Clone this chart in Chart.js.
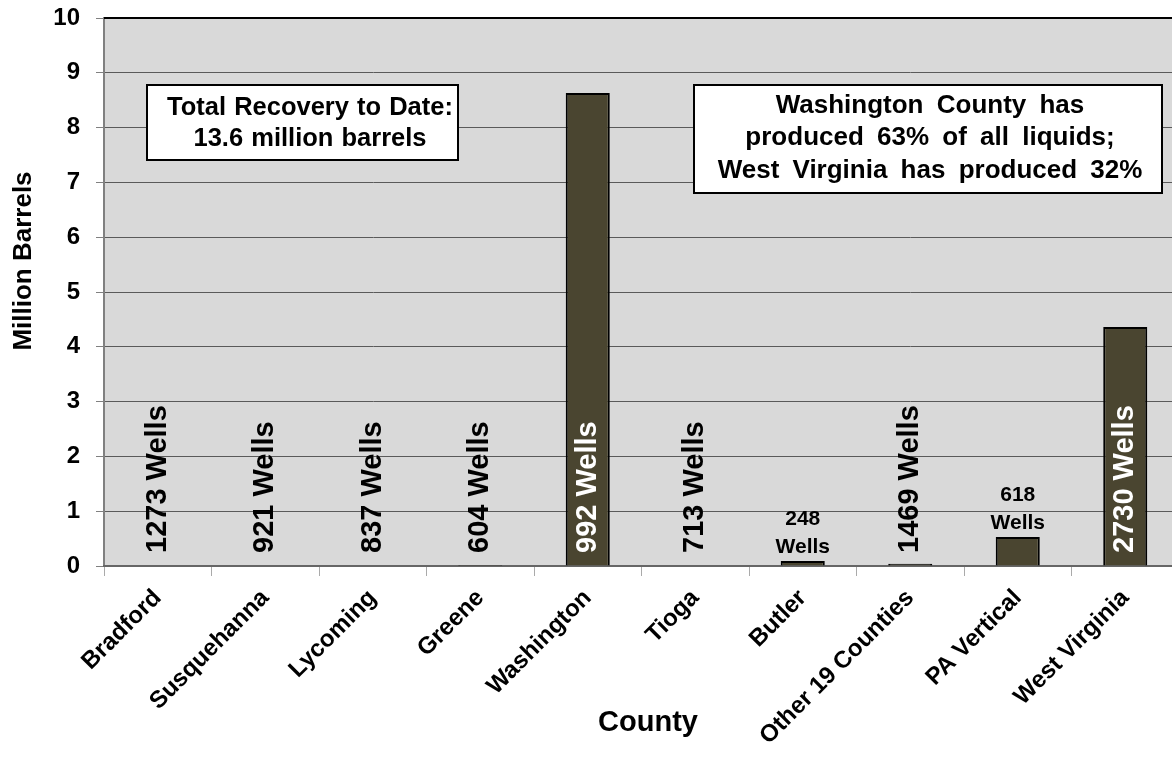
<!DOCTYPE html>
<html>
<head>
<meta charset="utf-8">
<script src="https://cdn.jsdelivr.net/npm/chart.js@4"></script>
<style>
  html, body { margin: 0; padding: 0; background: #fff; overflow: hidden; }
  #wrap { width: 1172px; height: 761px; overflow: hidden; }
</style>
</head>
<body>
<div id="wrap"><canvas id="myChart" width="1180" height="761"></canvas></div>
<script>
const counties = ['Bradford', 'Susquehanna', 'Lycoming', 'Greene', 'Washington', 'Tioga', 'Butler', 'Other 19 Counties', 'PA Vertical', 'West Virginia'];
const barrels = [0, 0, 0, 0.02, 8.63, 0, 0.09, 0.04, 0.53, 4.36];
const wells = [1273, 921, 837, 604, 992, 713, 248, 1469, 618, 2730];
const yTicks = [0, 1, 2, 3, 4, 5, 6, 7, 8, 9, 10];
const boxLeft = ['Total Recovery to Date:', '13.6 million barrels'];
const boxRight = ['Washington County has', 'produced 63% of all liquids;', 'West Virginia has produced 32%'];

const FONT = "'Liberation Sans', Arial, sans-serif";
const ctx = document.getElementById('myChart');

// labels that sit flat on top of their bar instead of running up the column
const flatLabels = ['Butler', 'PA Vertical'];

const plotBg = {
  id: 'plotBg',
  beforeDraw(chart) {
    const { ctx, chartArea: a } = chart;
    ctx.save();
    ctx.fillStyle = '#d9d9d9';
    ctx.fillRect(a.left, a.top, a.right - a.left, a.bottom - a.top);
    ctx.restore();
  }
};

function textBox(c, x1, y1, x2, y2, lines, cx, ys, size, gap) {
  c.fillStyle = '#fff';
  c.fillRect(x1, y1, x2 - x1, y2 - y1);
  c.strokeStyle = '#000';
  c.lineWidth = 2;
  c.strokeRect(x1, y1, x2 - x1, y2 - y1);
  c.fillStyle = '#000';
  c.font = 'bold ' + size + 'px ' + FONT;
  c.wordSpacing = gap + 'px';
  c.textAlign = 'center';
  c.textBaseline = 'middle';
  lines.forEach((t, i) => c.fillText(t, cx, ys[i]));
  c.wordSpacing = '0px';
}

const extras = {
  id: 'extras',
  afterDraw(chart) {
    const c = chart.ctx;
    const xs = chart.scales.x, ys = chart.scales.y;
    const a = chart.chartArea;
    c.save();

    // top border
    c.strokeStyle = '#000';
    c.lineWidth = 2;
    c.beginPath();
    c.moveTo(a.left, a.top);
    c.lineTo(a.right, a.top);
    c.stroke();

    // well count labels
    counties.forEach((name, i) => {
      const x = xs.getPixelForValue(i);
      const top = ys.getPixelForValue(barrels[i]);
      if (flatLabels.includes(name)) {
        c.font = 'bold 21px ' + FONT;
        c.fillStyle = '#000';
        c.textAlign = 'center';
        c.textBaseline = 'middle';
        c.fillText(wells[i], x, top - 42);
        c.fillText('Wells', x, top - 14);
      } else {
        c.save();
        c.translate(x, a.bottom - 13);
        c.rotate(-Math.PI / 2);
        c.font = 'bold 29px ' + FONT;
        c.fillStyle = top < a.bottom - 160 ? '#fff' : '#000';
        c.textAlign = 'left';
        c.textBaseline = 'middle';
        c.fillText(wells[i] + ' Wells', 0, 0);
        c.restore();
      }
    });

    // annotation boxes
    textBox(c, 147, 85, 458, 160, boxLeft, 310, [108, 139], 25.5, 1);
    textBox(c, 694, 85, 1162, 193, boxRight, 930, [106, 138, 171], 26, 6);

    // axis titles
    c.fillStyle = '#000';
    c.font = 'bold 26px ' + FONT;
    c.textAlign = 'center';
    c.textBaseline = 'middle';
    c.save();
    c.translate(24, 261);
    c.rotate(-Math.PI / 2);
    c.fillText('Million Barrels', 0, 0);
    c.restore();
    c.font = 'bold 29px ' + FONT;
    c.fillText('County', 648, 723);

    c.restore();
  }
};

new Chart(ctx, {
  type: 'bar',
  data: {
    labels: counties,
    datasets: [{
      data: barrels,
      backgroundColor: '#4a4530',
      borderColor: '#000',
      borderWidth: 2,
      borderSkipped: 'bottom',
      barPercentage: 0.41,
      categoryPercentage: 1
    }]
  },
  options: {
    responsive: false,
    animation: false,
    layout: { padding: { top: 18, right: 1, left: 0, bottom: 0 } },
    plugins: {
      legend: { display: false },
      tooltip: { enabled: false }
    },
    scales: {
      y: {
        min: 0,
        max: 10,
        afterFit(scale) {
          scale.width = 104;
          scale.paddingTop = 0;
          scale.paddingBottom = 0;
        },
        afterBuildTicks(scale) { scale.ticks = yTicks.map(v => ({ value: v })); },
        border: { color: '#808080', width: 2 },
        grid: {
          color: '#5a5a5a',
          lineWidth: 1,
          tickLength: 8,
          tickColor: '#808080'
        },
        ticks: {
          color: '#000',
          padding: 16,
          font: { family: FONT, size: 24, weight: 'bold' }
        }
      },
      x: {
        afterFit(scale) {
          scale.height = 195;
          scale.paddingLeft = 0;
          scale.paddingRight = 0;
        },
        border: { color: '#666', width: 2 },
        grid: {
          drawOnChartArea: false,
          drawTicks: true,
          tickLength: 10,
          color: '#aaa',
          offset: true
        },
        ticks: {
          color: '#000',
          minRotation: 45,
          maxRotation: 45,
          padding: 8,
          autoSkip: false,
          font: { family: FONT, size: 24, weight: 'bold' }
        }
      }
    }
  },
  plugins: [plotBg, extras]
});
</script>
</body>
</html>
